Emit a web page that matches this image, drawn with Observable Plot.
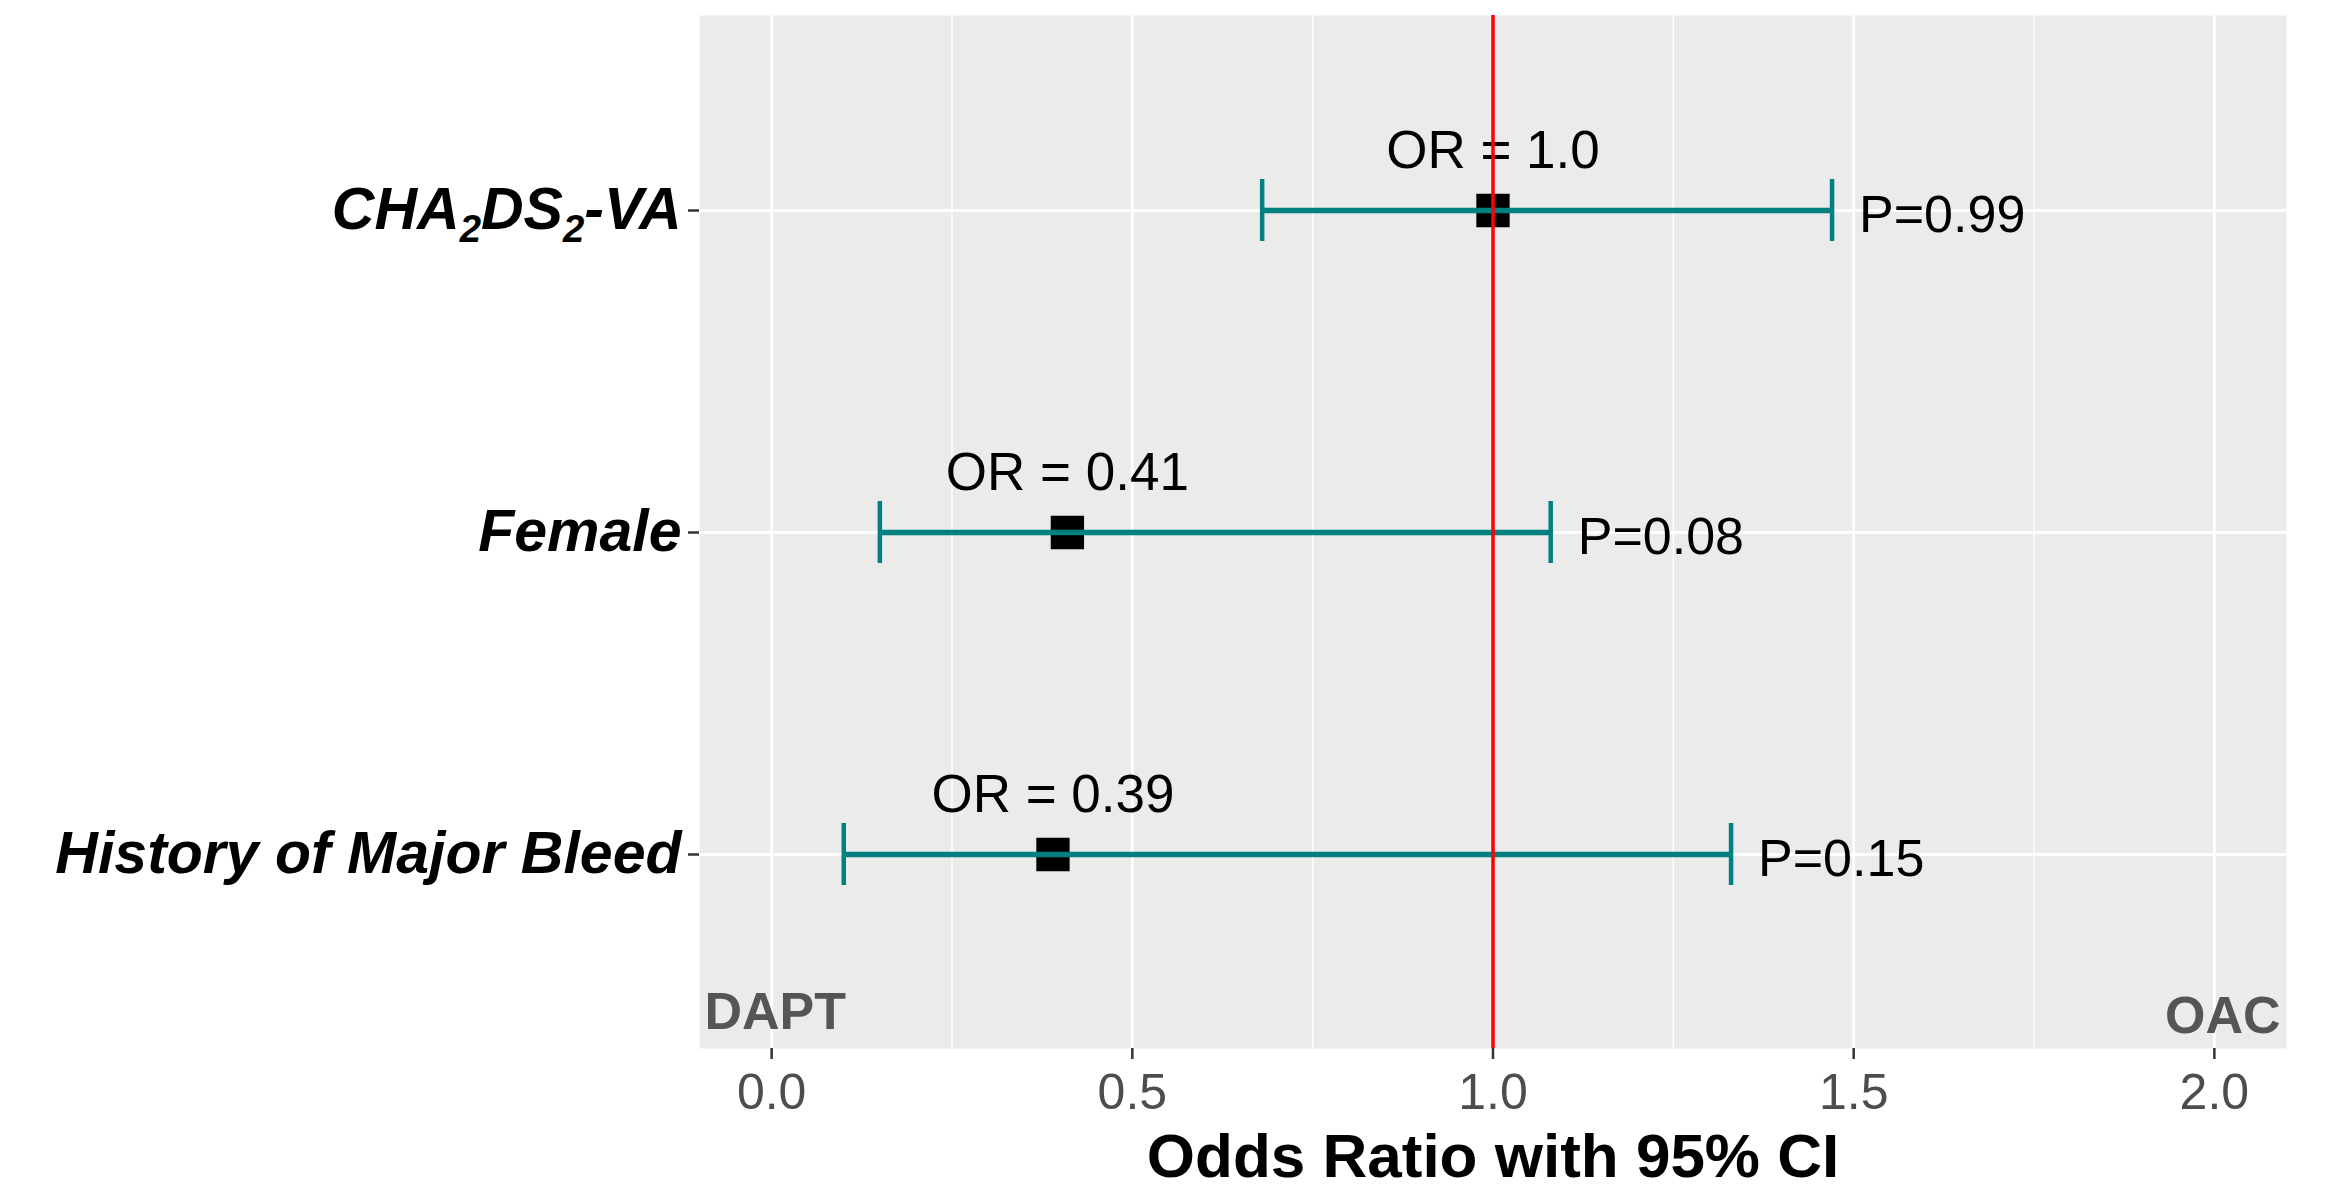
<!DOCTYPE html>
<html>
<head>
<meta charset="utf-8">
<script src="https://cdn.jsdelivr.net/npm/d3@7"></script>
<script src="https://cdn.jsdelivr.net/npm/@observablehq/plot@0.6"></script>
<style>
  html, body { margin: 0; padding: 0; background: white; }
  #chart { width: 2343px; height: 1189px; }
</style>
</head>
<body>
<div id="chart"></div>
<script>
const categories = ["CHA2DS2-VA", "Female", "History of Major Bleed"];
const oddsRatio = [1.0, 0.41, 0.39];
const ciLower = [0.68, 0.15, 0.10];
const ciUpper = [1.47, 1.08, 1.33];
const orLabels = ["OR = 1.0", "OR = 0.41", "OR = 0.39"];
const pLabels = ["P=0.99", "P=0.08", "P=0.15"];
const xTicks = [0, 0.5, 1.0, 1.5, 2.0];
const xMinorTicks = [0.25, 0.75, 1.25, 1.75];
const referenceOR = [1];
const sideLabels = ["DAPT", "OAC"];
const xTitle = "Odds Ratio with 95% CI";

const rows = categories.map((c, i) => ({
  category: c, or: oddsRatio[i], lo: ciLower[i], hi: ciUpper[i],
  orLabel: orLabels[i], pLabel: pLabels[i]
}));

const teal = "#008080";
const font = "'Liberation Sans', Arial, sans-serif";

const chart = Plot.plot({
  width: 2343,
  height: 1189,
  marginLeft: 699,
  marginRight: 57,
  marginTop: 15,
  marginBottom: 141,
  style: { fontFamily: font, background: "white", overflow: "visible" },
  x: { domain: [-0.1, 2.1] },
  y: { type: "band", domain: categories, paddingInner: 0.808, paddingOuter: 0.504 },
  marks: [
    Plot.frame({ fill: "#EBEBEB", stroke: "none" }),
    Plot.ruleX(xMinorTicks, { stroke: "white", strokeWidth: 1.4 }),
    Plot.ruleX(xTicks, { stroke: "white", strokeWidth: 2.8 }),
    Plot.ruleY(categories, { stroke: "white", strokeWidth: 2.8 }),
    Plot.dot(rows, { x: "or", y: "category", symbol: "square", r: 18.8, fill: "black", stroke: "none" }),
    Plot.ruleY(rows, { y: "category", x1: "lo", x2: "hi", stroke: teal, strokeWidth: 5.5 }),
    Plot.tickX(rows, { x: "lo", y: "category", stroke: teal, strokeWidth: 4.5 }),
    Plot.tickX(rows, { x: "hi", y: "category", stroke: teal, strokeWidth: 4.5 }),
    Plot.text(rows, { x: "or", y: "category", text: "orLabel", fontSize: 53, dy: -59, fill: "black" }),
    Plot.text(rows, { x: "hi", y: "category", text: "pLabel", textAnchor: "start", dx: 27, dy: 5, fontSize: 52, fill: "black" }),
    Plot.text([sideLabels[0]], { text: d => d, frameAnchor: "bottom-left", textAnchor: "start", dx: 5, dy: -20, fontSize: 52, fontWeight: "bold", fill: "#555555" }),
    Plot.text([sideLabels[1]], { text: d => d, frameAnchor: "bottom-right", textAnchor: "end", dx: -6, dy: -16, fontSize: 52, fontWeight: "bold", fill: "#555555" }),
    Plot.text([xTitle], { text: d => d, frameAnchor: "bottom", dy: 128, fontSize: 62, fontWeight: "bold", fill: "black" }),
    Plot.axisX({ ticks: xTicks, tickFormat: d3.format(".1f"), tickSize: 11, tickPadding: 14, fontSize: 50, fill: "#4D4D4D", stroke: "#333333", strokeWidth: 2.5, label: null }),
    Plot.axisY({ tickSize: 11, tickPadding: 7, fontSize: 59, fontWeight: "bold", fontStyle: "italic", fill: "black", stroke: "#333333", strokeWidth: 2.5, label: null }),
    Plot.ruleX(referenceOR, { stroke: "red", strokeWidth: 3.5 })
  ]
});

document.getElementById("chart").appendChild(chart);

// subscripts for CHA2DS2-VA
chart.querySelectorAll("text").forEach(t => {
  if (t.textContent === "CHA2DS2-VA") {
    t.textContent = "";
    const parts = [["CHA", 0, null], ["2", 13, "0.65em"], ["DS", -13, null], ["2", 13, "0.65em"], ["-VA", -13, null]];
    parts.forEach(([s, dy, fs]) => {
      const ts = document.createElementNS("http://www.w3.org/2000/svg", "tspan");
      ts.textContent = s;
      if (dy) ts.setAttribute("dy", dy);
      if (fs) ts.setAttribute("font-size", fs);
      t.appendChild(ts);
    });
  }
});
</script>
</body>
</html>
